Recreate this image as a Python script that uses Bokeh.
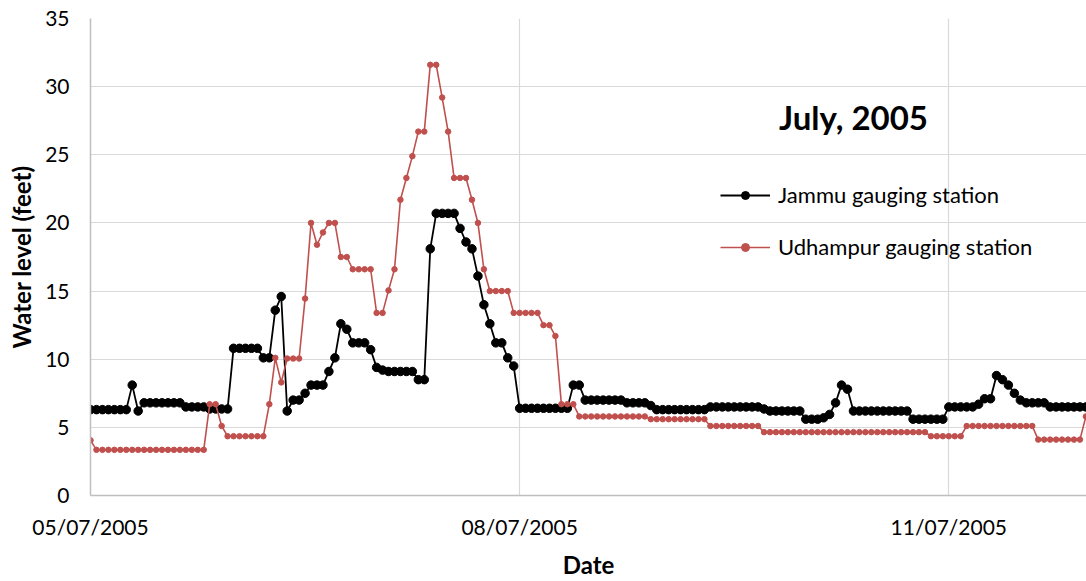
from bokeh.plotting import figure
from bokeh.models import (Range1d, FixedTicker, Legend, LegendItem, Label,
                          ColumnDataSource)
from bokeh.embed import file_html
from bokeh.resources import INLINE

FONT = "Lato"

# Hourly water level (feet), 05/07/2005 00:00 onward, one row per half day
jammu = [
    6.3, 6.3, 6.3, 6.3, 6.3, 6.3, 6.3, 8.1, 6.2, 6.8, 6.8, 6.8,
    6.8, 6.8, 6.8, 6.8, 6.5, 6.5, 6.5, 6.5, 6.35, 6.35, 6.35, 6.35,
    10.8, 10.8, 10.8, 10.8, 10.8, 10.1, 10.1, 13.6, 14.6, 6.2, 7.0, 7.0,
    7.5, 8.1, 8.1, 8.1, 9.1, 10.1, 12.6, 12.2, 11.2, 11.2, 11.2, 10.7,
    9.4, 9.2, 9.1, 9.1, 9.1, 9.1, 9.1, 8.5, 8.5, 18.1, 20.7, 20.7,
    20.7, 20.7, 19.6, 18.6, 18.1, 16.1, 14.0, 12.6, 11.2, 11.2, 10.1, 9.5,
    6.4, 6.4, 6.4, 6.4, 6.4, 6.4, 6.4, 6.4, 6.4, 8.1, 8.1, 7.0,
    7.0, 7.0, 7.0, 7.0, 7.0, 7.0, 6.8, 6.8, 6.8, 6.8, 6.6, 6.3,
    6.3, 6.3, 6.3, 6.3, 6.3, 6.3, 6.3, 6.3, 6.5, 6.5, 6.5, 6.5,
    6.5, 6.5, 6.5, 6.5, 6.5, 6.35, 6.2, 6.2, 6.2, 6.2, 6.2, 6.2,
    5.6, 5.6, 5.6, 5.7, 5.95, 6.8, 8.1, 7.8, 6.2, 6.2, 6.2, 6.2,
    6.2, 6.2, 6.2, 6.2, 6.2, 6.2, 5.6, 5.6, 5.6, 5.6, 5.6, 5.6,
    6.5, 6.5, 6.5, 6.5, 6.5, 6.7, 7.1, 7.1, 8.8, 8.5, 8.1, 7.5,
    7.0, 6.8, 6.8, 6.8, 6.8, 6.5, 6.5, 6.5, 6.5, 6.5, 6.5, 6.5,
]

udhampur = [
    4.05, 3.35, 3.35, 3.35, 3.35, 3.35, 3.35, 3.35, 3.35, 3.35, 3.35, 3.35,
    3.35, 3.35, 3.35, 3.35, 3.35, 3.35, 3.35, 3.35, 6.7, 6.7, 5.1, 4.35,
    4.35, 4.35, 4.35, 4.35, 4.35, 4.35, 6.7, 10.1, 8.3, 10.05, 10.05, 10.05,
    14.45, 20.0, 18.4, 19.3, 20.0, 20.0, 17.5, 17.5, 16.6, 16.6, 16.6, 16.6,
    13.4, 13.4, 15.05, 16.6, 21.7, 23.3, 24.9, 26.7, 26.7, 31.6, 31.6, 29.2,
    26.7, 23.3, 23.3, 23.3, 21.7, 20.0, 16.6, 15.0, 15.0, 15.0, 15.0, 13.4,
    13.4, 13.4, 13.4, 13.4, 12.5, 12.5, 11.7, 6.7, 6.7, 6.7, 5.8, 5.8,
    5.8, 5.8, 5.8, 5.8, 5.8, 5.8, 5.8, 5.8, 5.8, 5.8, 5.6, 5.6,
    5.6, 5.6, 5.6, 5.6, 5.6, 5.6, 5.6, 5.6, 5.1, 5.1, 5.1, 5.1,
    5.1, 5.1, 5.1, 5.1, 5.1, 4.65, 4.65, 4.65, 4.65, 4.65, 4.65, 4.65,
    4.65, 4.65, 4.65, 4.65, 4.65, 4.65, 4.65, 4.65, 4.65, 4.65, 4.65, 4.65,
    4.65, 4.65, 4.65, 4.65, 4.65, 4.65, 4.65, 4.65, 4.65, 4.35, 4.35, 4.35,
    4.35, 4.35, 4.35, 5.1, 5.1, 5.1, 5.1, 5.1, 5.1, 5.1, 5.1, 5.1,
    5.1, 5.1, 5.1, 4.1, 4.1, 4.1, 4.1, 4.1, 4.1, 4.1, 4.1, 5.8,
]

hours = list(range(len(jammu)))

x_tick_hours = [0, 72, 144]
x_tick_labels = ["05/07/2005", "08/07/2005", "11/07/2005"]
y_ticks = [0, 5, 10, 15, 20, 25, 30, 35]

series_names = ["Jammu gauging station", "Udhampur gauging station"]
chart_title = "July, 2005"

p = figure(width=1086, height=581, output_backend="svg", toolbar_location=None,
           x_range=Range1d(0, 167.1), y_range=Range1d(0, 35),
           min_border_left=90, min_border_right=0,
           min_border_top=18, min_border_bottom=86)
p.outline_line_color = None
p.background_fill_color = "white"
p.border_fill_color = "white"

src = ColumnDataSource(dict(h=hours, jammu=jammu, udh=udhampur))

j_line = p.line("h", "jammu", source=src, line_color="black", line_width=1.8)
j_pts = p.scatter("h", "jammu", source=src, size=8.5,
                  fill_color="black", line_color="black")
u_line = p.line("h", "udh", source=src, line_color="#C0504D", line_width=1.6)
u_pts = p.scatter("h", "udh", source=src, size=5.5,
                  fill_color="#C0504D", line_color="#C0504D")

# axes
p.xaxis.ticker = FixedTicker(ticks=x_tick_hours)
p.xaxis.major_label_overrides = dict(zip(x_tick_hours, x_tick_labels))
p.yaxis.ticker = FixedTicker(ticks=y_ticks)

for ax in (p.xaxis[0], p.yaxis[0]):
    ax.major_tick_in = 0
    ax.major_tick_out = 0
    ax.minor_tick_line_color = None
    ax.axis_line_color = "#bfbfbf"
    ax.axis_line_width = 1.5
    ax.major_label_text_font = FONT
    ax.major_label_text_font_size = "21px"
    ax.major_label_text_color = "black"
    ax.axis_label_text_font = FONT
    ax.axis_label_text_font_style = "bold"
    ax.axis_label_text_font_size = "24px"
    ax.axis_label_text_color = "black"

p.xaxis.axis_label = "Date"
p.xaxis.major_label_standoff = 18
p.xaxis.axis_label_standoff = 8
p.yaxis.axis_label = "Water level (feet)"
p.yaxis.major_label_standoff = 21
p.yaxis.axis_label_standoff = 6

p.xgrid.grid_line_color = "#d9d9d9"
p.ygrid.grid_line_color = "#d9d9d9"
p.xgrid.grid_line_width = 1.2
p.ygrid.grid_line_width = 1.2

# title inside the plot area
p.add_layout(Label(x=128, y=27.8, text=chart_title, text_font=FONT,
                   text_font_style="bold", text_font_size="33px",
                   text_align="center", text_baseline="alphabetic",
                   text_color="black"))

legend = Legend(items=[LegendItem(label=series_names[0], renderers=[j_line, j_pts]),
                       LegendItem(label=series_names[1], renderers=[u_line, u_pts])],
                location=(630, 235), orientation="vertical",
                border_line_color=None, background_fill_alpha=0,
                label_text_font=FONT, label_text_font_size="22px",
                label_text_color="black",
                glyph_width=50, glyph_height=20, label_standoff=8,
                spacing=25, padding=0, margin=0)
p.add_layout(legend, "center")

open("out.html", "w").write(file_html(p, INLINE))
